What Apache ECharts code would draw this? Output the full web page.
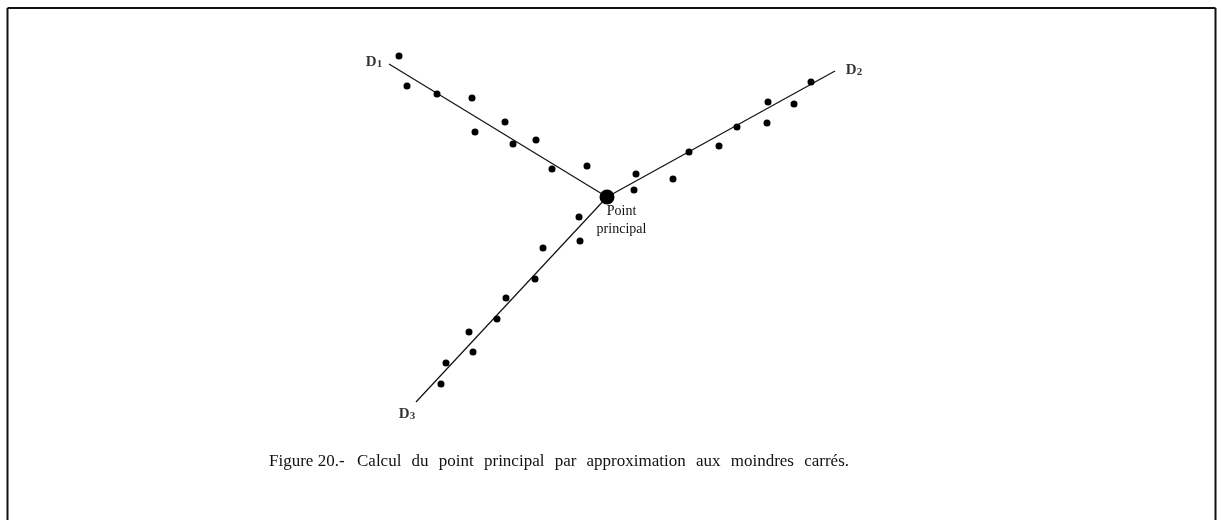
<!DOCTYPE html>
<html>
<head>
<meta charset="utf-8">
<script src="https://cdn.jsdelivr.net/npm/echarts@6/dist/echarts.min.js"></script>
<style>
  html, body { margin: 0; padding: 0; background: #fff; }
  #chart { width: 1218px; height: 520px; }
</style>
</head>
<body>
<div id="chart"></div>
<script>
// Observations scattered around each of the three straight lines (plane coordinates)
const d1Points = [[399,56],[407,86],[437,94],[472,98],[475,132],[505,122],[513,144],[536,140],[552,169],[587,166]];
const d2Points = [[636,174],[634,190],[673,179],[689,152],[719,146],[737,127],[767,123],[768,102],[794,104],[811,82]];
const d3Points = [[579,217],[580,241],[543,248],[535,279],[506,298],[497,319],[469,332],[473,352],[446,363],[441,384]];

// Least-squares principal point (common intersection)
const principalPoint = [607,197];

// Fitted lines: outer end -> principal point
const lineD1 = [[389,64],[607,197]];
const lineD2 = [[835,71],[607,197]];
const lineD3 = [[416,402],[607,197]];

// Line names and where they are written
const lineNames = ['D1','D2','D3'];
const lineNamePos = [[374,62],[854,70],[407,414]];

const principalLabel = 'Point\nprincipal';
const captionHead = 'Figure 20.-';
const captionBody = 'Calcul du point principal par approximation aux moindres carrés.';

const chart = echarts.init(document.getElementById('chart'), null, { renderer: 'canvas' });

const serif = '"Liberation Serif", "DejaVu Serif", serif';
const captionFont = '17px ' + serif;

function lineSeries(pts) {
  return {
    type: 'line',
    data: pts,
    showSymbol: false,
    symbol: 'none',
    silent: true,
    lineStyle: { color: '#111', width: 1.2 },
    z: 2
  };
}

function dotSeries(pts) {
  return {
    type: 'scatter',
    data: pts,
    symbol: 'circle',
    symbolSize: 7,
    itemStyle: { color: '#000', opacity: 1 },
    silent: true,
    z: 3
  };
}

// Justified caption: words spread evenly across the caption line
function justifiedWords(text, x0, x1, top) {
  const ctx = document.createElement('canvas').getContext('2d');
  ctx.font = captionFont;
  const words = text.split(' ');
  const widths = words.map(w => ctx.measureText(w).width);
  const total = widths.reduce((a, b) => a + b, 0);
  const gap = (x1 - x0 - total) / (words.length - 1);
  let x = x0;
  return words.map((w, i) => {
    const el = { type: 'text', x: x, y: top, style: { text: w, font: captionFont, fill: '#111' } };
    x += widths[i] + gap;
    return el;
  });
}

chart.setOption({
  animation: false,
  backgroundColor: '#fff',
  grid: { left: 0, right: 0, top: 0, bottom: 0 },
  xAxis: { type: 'value', min: 0, max: 1218, show: false },
  yAxis: { type: 'value', min: 0, max: 520, inverse: true, show: false },
  series: [
    lineSeries(lineD1),
    lineSeries(lineD2),
    lineSeries(lineD3),
    dotSeries(d1Points),
    dotSeries(d2Points),
    dotSeries(d3Points),
    {
      type: 'scatter',
      data: [principalPoint],
      symbolSize: 15,
      itemStyle: { color: '#000', opacity: 1 },
      silent: true,
      z: 4,
      label: {
        show: true,
        position: [22, 13],
        align: 'center',
        verticalAlign: 'top',
        formatter: principalLabel,
        fontFamily: serif,
        fontSize: 14,
        lineHeight: 18,
        color: '#111'
      }
    },
    {
      type: 'scatter',
      data: lineNames.map((n, i) => ({ value: lineNamePos[i], name: n })),
      symbolSize: 0,
      silent: true,
      label: {
        show: true,
        position: 'inside',
        formatter: p => '{d|' + p.name[0] + '}{s|' + p.name.slice(1) + '}',
        rich: {
          d: { fontFamily: serif, fontSize: 15, fontWeight: 'bold', color: '#000' },
          s: { fontFamily: serif, fontSize: 11, fontWeight: 'bold', color: '#000', padding: [5, 0, 0, 0] }
        }
      }
    }
  ],
  graphic: [
    // page frame
    { type: 'line', shape: { x1: 7.5, y1: 8, x2: 1215.5, y2: 8 }, style: { stroke: '#111', lineWidth: 2 } },
    { type: 'line', shape: { x1: 7.5, y1: 8, x2: 7.5, y2: 520 }, style: { stroke: '#111', lineWidth: 2 } },
    { type: 'line', shape: { x1: 1215.5, y1: 8, x2: 1215.5, y2: 520 }, style: { stroke: '#111', lineWidth: 2 } },
    { type: 'text', x: 269, y: 453, style: { text: captionHead, font: captionFont, fill: '#111' } }
  ].concat(justifiedWords(captionBody, 357, 849, 453))
});
</script>
</body>
</html>
